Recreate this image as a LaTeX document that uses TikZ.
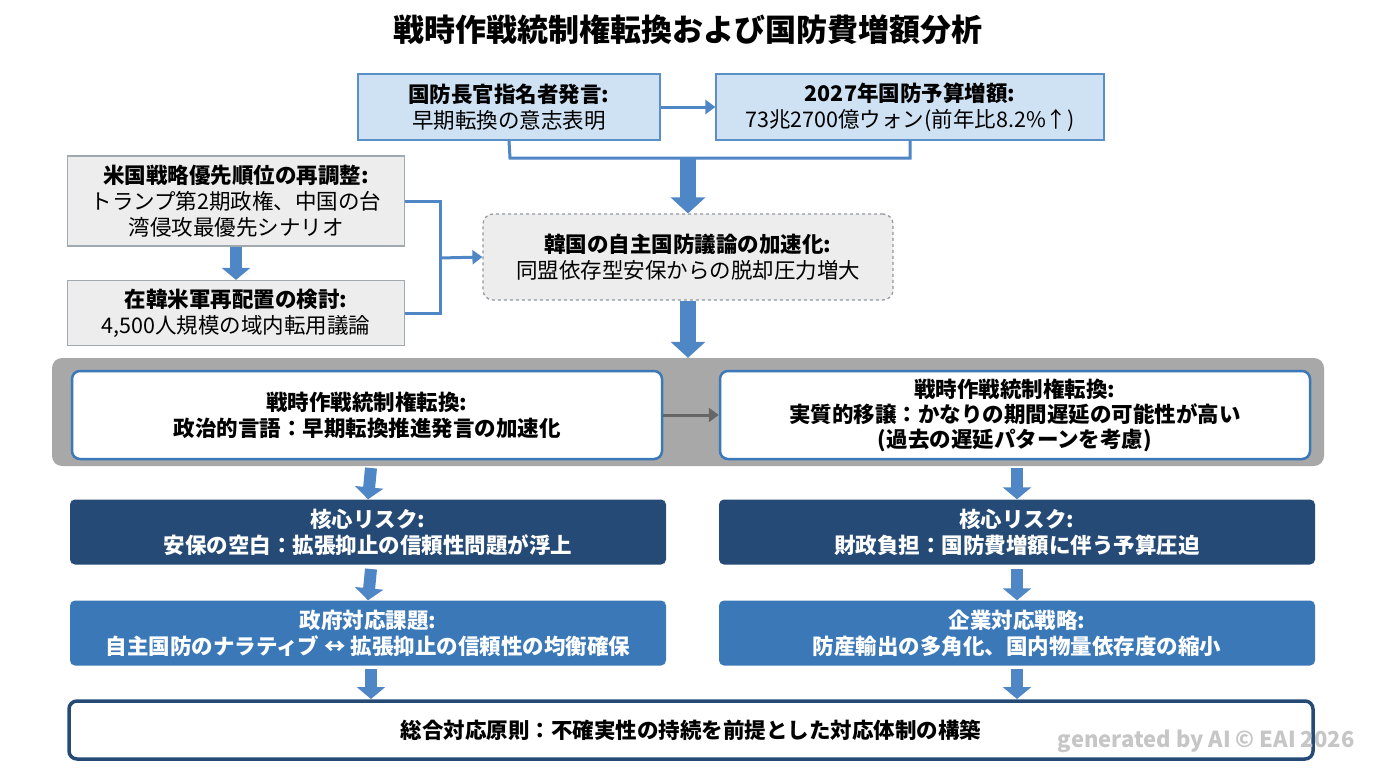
\documentclass[tikz,border=0pt]{standalone}
\usepackage{fontspec}
\setmainfont{Noto Sans CJK JP}
\usetikzlibrary{arrows.meta}
\definecolor{lb}{HTML}{CFE2F3}
\definecolor{bb}{HTML}{5B8FC7}
\definecolor{gf}{HTML}{EDEDED}
\definecolor{gb}{HTML}{A0A8B0}
\definecolor{navy}{HTML}{244A75}
\definecolor{mb}{HTML}{3B78B8}
\definecolor{panel}{HTML}{A8A8A8}
\definecolor{ar}{HTML}{4F86C6}
\begin{document}
\begin{tikzpicture}[x=1pt,y=-1pt,
 txt/.style={font=\fontsize{21.5}{26}\selectfont,align=center},
 box/.style={draw,line width=1.2pt,txt},
 blk/.style={line width=16pt,ar,-{Triangle[length=16pt,width=34pt]}},
 sblk/.style={line width=12pt,ar,-{Triangle[length=12pt,width=28pt]}},
 con/.style={line width=3pt,ar}]
\useasboundingbox (0,0) rectangle (1376,768);
\node[font=\fontsize{31}{36}\selectfont\bfseries] (title) at (688,30) {戦時作戦統制権転換および国防費増額分析};
\node[box,fill=lb,draw=bb,minimum width=302pt,minimum height=66pt] (A) at (509,107) {\textbf{国防長官指名者発言:}\\早期転換の意志表明};
\node[box,fill=lb,draw=bb,minimum width=388pt,minimum height=66pt] (B) at (910,107) {\textbf{2027年国防予算増額:}\\73兆2700億ウォン(前年比8.2\%↑)};
\draw[con,-{Triangle[length=10pt,width=14pt]}] (A.east) -- (B.west);
\coordinate (m1) at (688,158);
\draw[con] (A.south) -- (510,158) -- (910,158) -- (B.south);
\node[box,fill=gf,draw=gb,minimum width=337pt,minimum height=90pt] (C) at (236,201) {\textbf{米国戦略優先順位の再調整:}\\トランプ第2期政権、中国の台\\湾侵攻最優先シナリオ};
\node[box,fill=gf,draw=gb,minimum width=337pt,minimum height=65pt] (D) at (236,313) {\textbf{在韓米軍再配置の検討:}\\4,500人規模の域内転用議論};
\node[box,fill=gf,draw=gb!90!black,dashed,rounded corners=10pt,minimum width=410pt,minimum height=86pt] (E) at (688,257) {\textbf{韓国の自主国防議論の加速化:}\\同盟依存型安保からの脱却圧力増大};
\draw[blk] (m1) -- (E.north);
\draw[sblk] (C.south) -- (D.north);
\coordinate (k) at (440,258);
\draw[con] (C.east) -- (440,201) -- (440,313) -- (D.east);
\draw[con,-{Triangle[length=10pt,width=14pt]}] (k) -- (E.west);
\node[fill=panel,rounded corners=10pt,minimum width=1272pt,minimum height=108pt] (P) at (688,412) {};
\draw[blk] (E.south) -- (P.north);
\node[box,fill=white,draw=mb,line width=2.5pt,rounded corners=8pt,minimum width=590pt,minimum height=88pt,font=\fontsize{21.5}{26}\selectfont\bfseries] (F) at (367,415) {戦時作戦統制権転換:\\政治的言語：早期転換推進発言の加速化};
\node[box,fill=white,draw=mb,line width=2.5pt,rounded corners=8pt,minimum width=590pt,minimum height=88pt,font=\fontsize{21.5}{25}\selectfont\bfseries] (G) at (1015,415) {戦時作戦統制権転換:\\実質的移譲：かなりの期間遅延の可能性が高い\\(過去の遅延パターンを考慮)};
\draw[line width=3pt,gray!80!black,-{Triangle[length=10pt,width=14pt]}] (F.east) -- (G.west);
\tikzset{dk/.style={txt,text=white,font=\fontsize{21.5}{26}\selectfont\bfseries,rounded corners=5pt,minimum width=596pt,minimum height=65pt}}
\node[dk,fill=navy] (H) at (368,532) {核心リスク:\\安保の空白：拡張抑止の信頼性問題が浮上};
\node[dk,fill=navy] (I) at (1017,532) {核心リスク:\\財政負担：国防費増額に伴う予算圧迫};
\node[dk,fill=mb] (J) at (368,633) {政府対応課題:\\自主国防のナラティブ ↔ 拡張抑止の信頼性の均衡確保};
\node[dk,fill=mb] (K) at (1017,633) {企業対応戦略:\\防産輸出の多角化、国内物量依存度の縮小};
\node[box,fill=white,draw=navy,line width=3.5pt,rounded corners=8pt,minimum width=1244pt,minimum height=58pt,font=\fontsize{21.5}{26}\selectfont\bfseries] (L) at (691,730) {総合対応原則：不確実性の持続を前提とした対応体制の構築};
\draw[sblk] (371,468) -- (H.north);
\draw[sblk] (1017,468) -- (I.north);
\draw[sblk] (371,569) -- (J.north);
\draw[sblk] (1017,569) -- (K.north);
\draw[sblk] (371,669) -- (371,699);
\draw[sblk] (1017,669) -- (1017,699);
\node[font=\fontsize{22}{26}\selectfont\bfseries,text=gray!45,anchor=east] (wm) at (1358,741) {generated by AI © EAI 2026};
\end{tikzpicture}
\end{document}
